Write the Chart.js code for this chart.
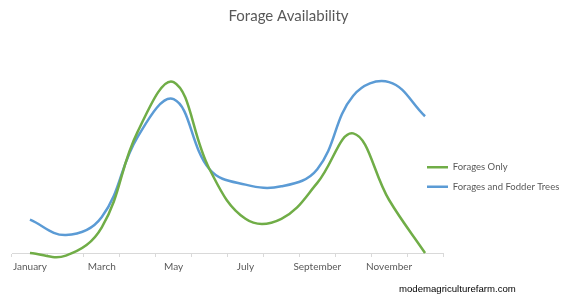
<!DOCTYPE html>
<html>
<head>
<meta charset="utf-8">
<script src="https://cdn.jsdelivr.net/npm/chart.js@4"></script>
<style>
  html, body { margin: 0; padding: 0; background: #fff; }
  #wrap { position: relative; width: 565px; height: 297px; }
  #watermark {
    position: absolute; left: 399px; top: 283px;
    font: 9.6px "Liberation Sans", Arial, sans-serif; color: #000;
  }
</style>
</head>
<body>
<div id="wrap">
  <canvas id="forageChart" width="565" height="297"></canvas>
  <div id="watermark">modemagriculturefarm.com</div>
</div>
<script>
// valeurs (unités arbitraires)
const months = ['January', 'February', 'March', 'April', 'May', 'June',
    'July', 'August', 'September', 'October', 'November', 'December'];
const foragesOnly = [0, -0.15, 1.5, 7.1, 10.0, 4.9, 2.0, 2.0, 4.1, 7.0, 3.1, 0];
const foragesFodder = [1.95, 1.05, 2.1, 6.8, 9.0, 4.9, 4.0, 3.9, 4.9, 9.2, 10.0, 8.0];

const GREEN = '#70AD47';
const BLUE = '#5B9BD5';
const FONT = 'Lato, "Open Sans", sans-serif';

// légende décalée comme dans Excel (chevauche un peu la zone du graphe)
const legendNudge = {
    id: 'legendNudge',
    afterLayout(chart) {
        const lg = chart.legend;
        lg.left -= 26;
        lg.width += 26;
        lg.top += 18;
        lg.bottom += 18;
    }
};

new Chart(document.getElementById('forageChart'), {
    type: 'line',
    data: {
        labels: months,
        datasets: [{
            label: 'Forages Only',
            data: foragesOnly,
            borderColor: GREEN,
            backgroundColor: GREEN,
            borderWidth: 2.5,
            pointRadius: 0,
            tension: 0.4,
            clip: false
        }, {
            label: 'Forages and Fodder Trees',
            data: foragesFodder,
            borderColor: BLUE,
            backgroundColor: BLUE,
            borderWidth: 2.5,
            pointRadius: 0,
            tension: 0.4,
            clip: false
        }]
    },
    options: {
        responsive: false,
        animation: false,
        layout: { padding: { left: 12, right: 0, top: 0, bottom: 20 } },
        plugins: {
            title: {
                display: true,
                text: 'Forage Availability',
                color: '#595959',
                font: { family: FONT, size: 15, weight: 'normal' },
                padding: { top: 7, bottom: 40 }
            },
            legend: {
                position: 'right',
                fullSize: false,
                maxWidth: 122,
                labels: {
                    color: '#595959',
                    font: { family: FONT, size: 9.5 },
                    usePointStyle: true,
                    pointStyle: 'line',
                    pointStyleWidth: 21,
                    padding: 10
                }
            },
            tooltip: { enabled: false }
        },
        scales: {
            x: {
                offset: true,
                border: { color: '#D9D9D9', width: 1 },
                grid: {
                    offset: true,
                    drawOnChartArea: false,
                    drawTicks: true,
                    tickLength: 4,
                    color: '#D9D9D9'
                },
                ticks: {
                    autoSkip: false,
                    maxRotation: 0,
                    color: '#595959',
                    font: { family: FONT, size: 10 },
                    padding: 4,
                    callback: function (value, index) {
                        return index % 2 === 0 ? this.getLabelForValue(value) : '';
                    }
                }
            },
            y: {
                display: false,
                min: 0,
                max: 11
            }
        }
    },
    plugins: [legendNudge]
});
</script>
</body>
</html>
